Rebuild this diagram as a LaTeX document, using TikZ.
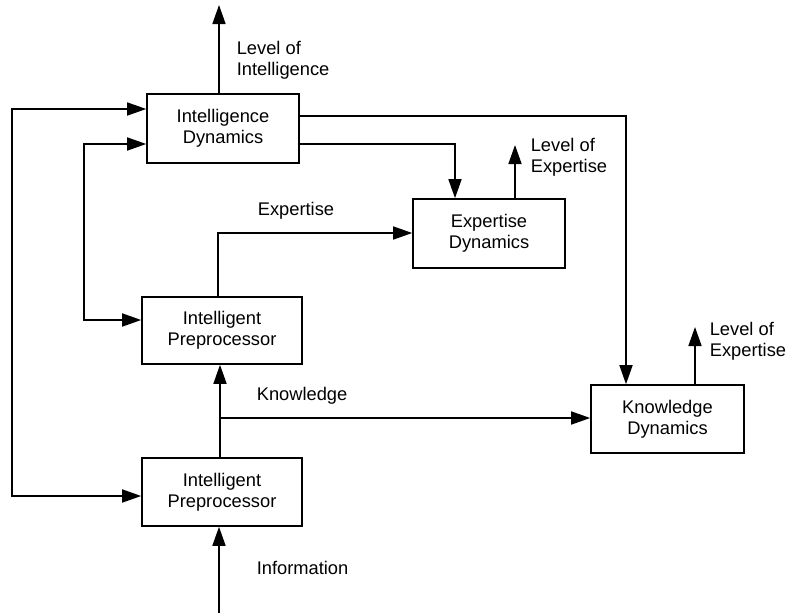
\documentclass[tikz,border=0pt]{standalone}
\usepackage{fontspec}
\setmainfont{Liberation Sans}
\usetikzlibrary{arrows.meta,calc}
\begin{document}
\begin{tikzpicture}[x=1pt,y=-1pt,
  line width=1.6pt,
  every node/.style={font=\fontsize{18.3}{21}\selectfont, inner sep=0pt},
  box/.style={draw, line width=1.6pt, align=center, minimum width=152pt, minimum height=69pt},
  lbl/.style={align=left, anchor=west},
  arr/.style={-{Triangle[length=19pt,width=13pt]}},
  arrb/.style={{Triangle[length=19pt,width=13pt]}-{Triangle[length=19pt,width=13pt]}}]
\useasboundingbox (0,0) rectangle (789,613);
% boxes
\node[box] (ID) at (223,128.5) {Intelligence\\Dynamics};
\node[box, minimum width=160pt, minimum height=67pt] (PP1) at (222,330.5) {Intelligent\\Preprocessor};
\node[box, minimum width=160pt, minimum height=68pt] (PP2) at (222,492) {Intelligent\\Preprocessor};
\node[box] (ED) at (489,233.5) {Expertise\\Dynamics};
\node[box, minimum width=153pt, minimum height=68pt] (KD) at (667.5,419) {Knowledge\\Dynamics};
% coordinates
\coordinate (lvI) at (219,5);
\coordinate (fbA) at (12,109);
\coordinate (fbB) at (12,496);
\coordinate (fiA) at (84,144);
\coordinate (fiB) at (84,320);
\coordinate (kdC) at (626,116);
\coordinate (edC) at (455,144);
\coordinate (exC) at (218,233);
\coordinate (lvE) at (515,145);
\coordinate (lvK) at (695,327);
\coordinate (knC) at (220,418);
\coordinate (inC) at (219,613);
% connectors
\draw[arr] (ID.north -| lvI) -- (lvI);
\draw[arrb] (fbA -| ID.west) -- (fbA) -- (fbB) -- (fbB -| PP2.west);
\draw[arrb] (fiA -| ID.west) -- (fiA) -- (fiB) -- (fiB -| PP1.west);
\draw[arr] (kdC -| ID.east) -- (kdC) -- (kdC |- KD.north);
\draw[arr] (edC -| ID.east) -- (edC) -- (edC |- ED.north);
\draw[arr] (exC |- PP1.north) -- (exC) -- (exC -| ED.west);
\draw[arr] (lvE |- ED.north) -- (lvE);
\draw[arr] (knC |- PP2.north) -- (knC |- PP1.south);
\draw[arr] (knC) -- (knC -| KD.west);
\draw[arr] (inC) -- (inC |- PP2.south);
\draw[arr] (lvK |- KD.north) -- (lvK);
% labels
\node[lbl] (tLI) at (236,60) {Level of\\Intelligence};
\node[lbl] (tEx) at (257,211) {Expertise};
\node[lbl] (tLE) at (530,157) {Level of\\Expertise};
\node[lbl] (tLK) at (709,341) {Level of\\Expertise};
\node[lbl] (tKn) at (256,396) {Knowledge};
\node[lbl] (tIn) at (256,568) {Information};
\end{tikzpicture}
\end{document}
